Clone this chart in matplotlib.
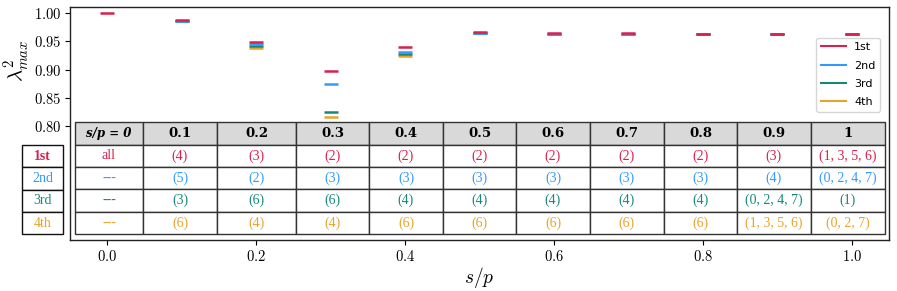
import matplotlib
matplotlib.use("Agg")
import matplotlib.pyplot as plt
import numpy as np

plt.rcParams['mathtext.fontset'] = 'cm'

# ---------------- data ----------------
sp = [0.0, 0.1, 0.2, 0.3, 0.4, 0.5, 0.6, 0.7, 0.8, 0.9, 1.0]
sp_rest = [0.1, 0.2, 0.3, 0.4, 0.5, 0.6, 0.7, 0.8, 0.9, 1.0]
lam_1st = [1.000, 0.987, 0.948, 0.897, 0.940, 0.966, 0.965, 0.964, 0.963, 0.963, 0.963]
lam_2nd = [0.985, 0.945, 0.874, 0.932, 0.965, 0.963, 0.963, 0.963, 0.963, 0.963]
lam_3rd = [0.985, 0.942, 0.826, 0.928, 0.964, 0.963, 0.963, 0.963, 0.963, 0.963]
lam_4th = [0.985, 0.939, 0.817, 0.925, 0.964, 0.963, 0.963, 0.963, 0.963, 0.963]

series_names = ['1st', '2nd', '3rd', '4th']
colors = ['#DC1E4A', '#3399FF', '#17877A', '#E6A52A']

col_headers = ['s/p = 0', '0.1', '0.2', '0.3', '0.4', '0.5', '0.6', '0.7', '0.8', '0.9', '1']
row_1st = ['all', '(4)', '(3)', '(2)', '(2)', '(2)', '(2)', '(2)', '(2)', '(3)', '(1, 3, 5, 6)']
row_2nd = ['---', '(5)', '(2)', '(3)', '(3)', '(3)', '(3)', '(3)', '(3)', '(4)', '(0, 2, 4, 7)']
row_3rd = ['---', '(3)', '(6)', '(6)', '(4)', '(4)', '(4)', '(4)', '(4)', '(0, 2, 4, 7)', '(1)']
row_4th = ['---', '(6)', '(4)', '(4)', '(6)', '(6)', '(6)', '(6)', '(6)', '(1, 3, 5, 6)', '(0, 2, 7)']

yticks = [0.80, 0.85, 0.90, 0.95, 1.00]
xticks = [0.0, 0.2, 0.4, 0.6, 0.8, 1.0]

# ---------------- figure ----------------
fig = plt.figure(figsize=(8.97, 2.91), dpi=100)
ax = fig.add_axes([70/897, 51/291, 819/897, 233/291])

xs = [sp_rest, sp_rest, sp_rest, sp]
ys = [lam_4th, lam_3rd, lam_2nd, lam_1st]
order = [3, 2, 1, 0]
handles = {}
for k, (x, y) in zip(order, zip(xs, ys)):
    ax.plot(x, y, linestyle='none', marker='_', markersize=10.5,
            markeredgewidth=1.8, color=colors[k], zorder=3 + (3 - k))
    handles[k] = plt.Line2D([], [], color=colors[k], lw=1.5)

leg = ax.legend([handles[k] for k in range(4)], series_names,
                loc='upper right', bbox_to_anchor=(0.989, 0.868),
                borderaxespad=0, handlelength=2.3, handletextpad=0.7,
                labelspacing=0.75, prop={'family': 'DejaVu Sans', 'size': 8})

ax.set_xlim(-0.05, 1.05)
ax.set_ylim(0.60, 1.0105)
ax.set_yticks(yticks, labels=[r'$%.2f$' % v for v in yticks], fontsize=10.5)
ax.set_xticks(xticks, labels=[r'$%.1f$' % v for v in xticks], fontsize=10.5)
ax.tick_params(length=3.5, width=0.8, pad=3)
for s in ax.spines.values():
    s.set_color('#222222')
    s.set_linewidth(1.0)

ax.set_ylabel(r'$\lambda^2_{max}$', fontsize=15)
ax.yaxis.set_label_coords(-0.047, 0.77)
ax.set_xlabel(r'$s/p$', fontsize=14, labelpad=1)

# ---------------- main table ----------------
col_px = [68, 74, 79, 73, 74, 73, 74, 74, 73, 74, 74]
rows = [row_1st, row_2nd, row_3rd, row_4th]
cell_text = [col_headers] + rows
tab = ax.table(cellText=cell_text, cellLoc='center',
               colWidths=[w / sum(col_px) for w in col_px],
               bbox=[0.0061, 0.0245, 0.9889, 0.4807], zorder=5)
tab.auto_set_font_size(False)
for (r, c), cell in tab.get_celld().items():
    cell.set_edgecolor('#333333')
    cell.set_linewidth(1.0)
    t = cell.get_text()
    if r == 0:
        cell.set_facecolor('#D9D9D9')
        t.set_family('DejaVu Serif')
        t.set_fontweight('bold')
        if c == 0:
            t.set_fontstyle('italic')
            t.set_fontsize(8.5)
        else:
            t.set_fontsize(9.5)
    else:
        cell.set_facecolor('white')
        t.set_color(colors[r - 1])
        t.set_fontsize(10)
        t.set_family('Liberation Serif')

# ---------------- row label table ----------------
lab = ax.table(cellText=[[n] for n in series_names], cellLoc='center',
               bbox=[-0.0583, 0.0245, 0.0501, 0.383], zorder=5)
lab.auto_set_font_size(False)
for (r, c), cell in lab.get_celld().items():
    cell.set_edgecolor('#111111')
    cell.set_linewidth(1.0)
    cell.set_clip_on(False)
    t = cell.get_text()
    t.set_color(colors[r])
    t.set_fontsize(10)
    t.set_family('Liberation Serif')
    if r == 0:
        t.set_fontweight('bold')

fig.savefig('out.png', dpi=100)
